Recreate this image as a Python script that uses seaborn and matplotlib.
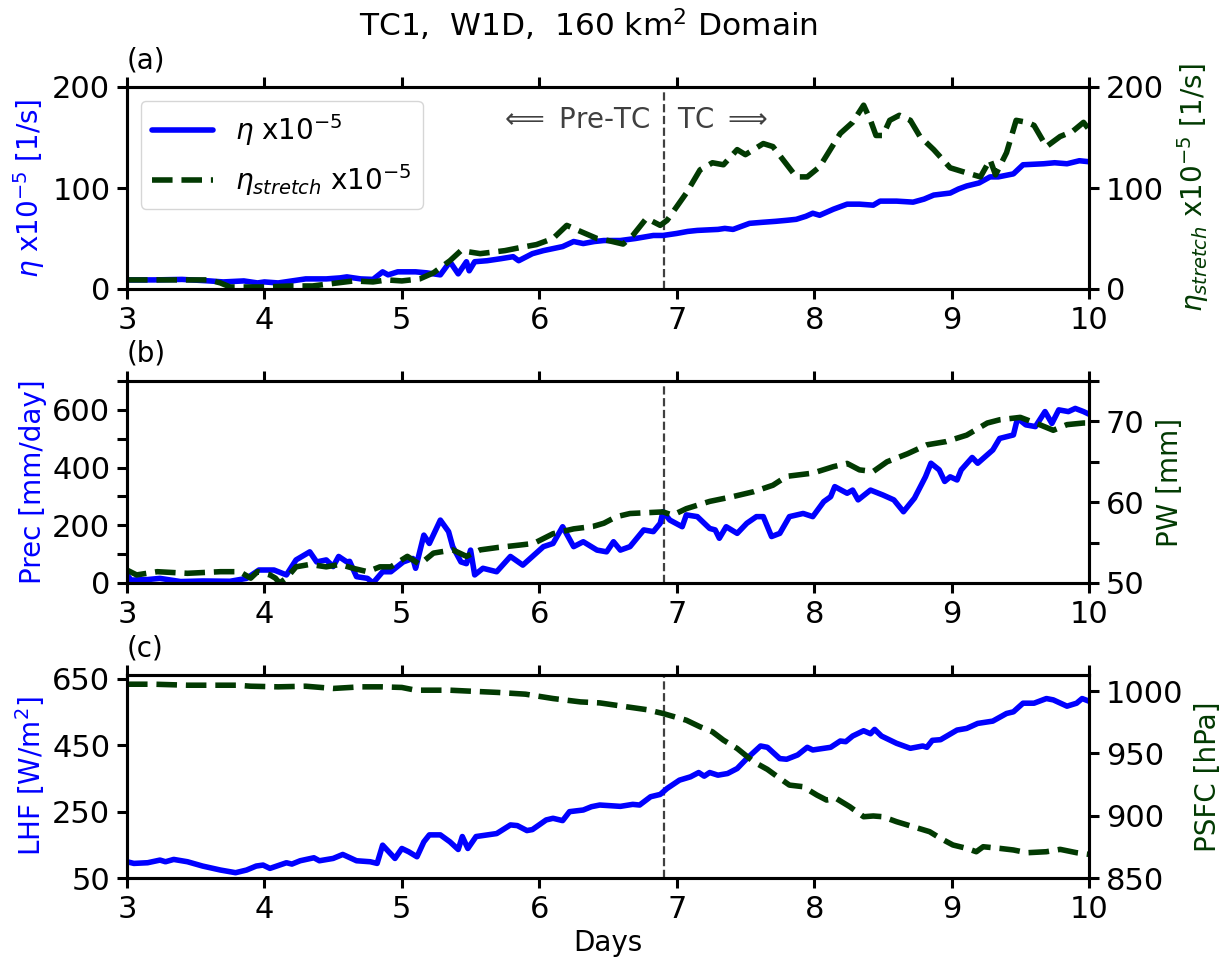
import matplotlib
matplotlib.use("Agg")
import matplotlib.pyplot as plt
import matplotlib.transforms as mtransforms
from matplotlib.ticker import MultipleLocator
import seaborn as sns

# ---------------- (a) absolute vorticity and stretching term (x1e-5 1/s) ----------------
eta_days = [3.0, 3.2, 3.4, 3.6, 3.7, 3.85, 3.95, 4.0, 4.1, 4.2, 4.3, 4.45, 4.55, 4.6, 4.7,
            4.79, 4.86, 4.9, 4.97, 5.1, 5.18, 5.28, 5.35, 5.41, 5.47, 5.49, 5.53, 5.62, 5.72,
            5.81, 5.85, 5.95, 6.03, 6.1, 6.17, 6.25, 6.32, 6.4, 6.47, 6.59, 6.7, 6.83, 6.9,
            7.0, 7.08, 7.15, 7.3, 7.35, 7.41, 7.47, 7.53, 7.62, 7.72, 7.8, 7.87, 7.94, 7.99,
            8.04, 8.14, 8.24, 8.33, 8.43, 8.48, 8.6, 8.72, 8.8, 8.87, 8.99, 9.05, 9.11, 9.2,
            9.28, 9.34, 9.45, 9.52, 9.67, 9.75, 9.84, 9.93, 10.0]
eta = [9, 9, 9.5, 8, 7, 8, 6, 7, 6, 8, 10, 10, 11, 12, 10,
       9.5, 17, 14, 17, 17, 16, 14, 27, 15, 27, 18, 27, 28, 30,
       32, 28, 35, 38, 40, 42, 47, 45, 47, 48, 48, 50, 53, 53,
       55, 57, 58, 59, 60, 59, 62, 65, 66, 67, 68, 69, 72, 75,
       73, 79, 84, 84, 83, 87, 87, 86, 89, 93, 95, 99, 102, 105,
       111, 111, 114, 123, 124, 125, 124, 127, 126]

stretch_days = [3.0, 3.2, 3.4, 3.6, 3.68, 3.75, 3.9, 4.0, 4.2, 4.35, 4.53, 4.65, 4.79, 4.89,
                5.0, 5.13, 5.23, 5.35, 5.43, 5.57, 5.75, 5.86, 5.98, 6.1, 6.2, 6.3, 6.42, 6.5,
                6.61, 6.68, 6.78, 6.88, 6.93, 7.07, 7.17, 7.26, 7.34, 7.44, 7.5, 7.63, 7.7,
                7.87, 7.95, 8.04, 8.19, 8.28, 8.36, 8.41, 8.45, 8.5, 8.55, 8.62, 8.7, 8.77,
                8.87, 8.99, 9.11, 9.21, 9.28, 9.32, 9.4, 9.47, 9.55, 9.6, 9.69, 9.79, 9.88,
                9.96, 10.0]
eta_stretch = [9, 9, 9, 9, 6, 2, 2, 2, 3, 3, 6, 8, 7, 9,
               8, 10, 16, 28, 38, 35, 38, 41, 44, 50, 63, 57, 50, 48,
               44.5, 53, 70, 63, 68, 95, 118, 125, 123, 138, 133, 144, 141,
               111, 111, 121, 154, 165, 182, 167, 152, 152, 167, 172, 167, 151,
               138, 120, 115, 111, 128, 113, 135, 167, 165, 162, 141, 151, 156,
               165, 158]

# ---------------- (b) precipitation (mm/day) and precipitable water (mm) ----------------
prec_days = [3.0, 3.03, 3.15, 3.24, 3.39, 3.55, 3.75, 3.87, 3.96, 4.07, 4.16, 4.23, 4.33,
             4.38, 4.45, 4.5, 4.54, 4.6, 4.62, 4.67, 4.75, 4.79, 4.86, 4.92, 5.01, 5.08,
             5.1, 5.16, 5.2, 5.28, 5.34, 5.37, 5.43, 5.47, 5.5, 5.53, 5.59, 5.69, 5.79,
             5.88, 6.03, 6.1, 6.17, 6.25, 6.32, 6.42, 6.49, 6.54, 6.59, 6.66, 6.76, 6.83,
             6.88, 6.9, 6.95, 7.04, 7.07, 7.15, 7.24, 7.28, 7.31, 7.36, 7.44, 7.51, 7.58,
             7.63, 7.69, 7.75, 7.82, 7.92, 7.99, 8.07, 8.12, 8.15, 8.24, 8.28, 8.32, 8.41,
             8.5, 8.58, 8.65, 8.73, 8.81, 8.85, 8.91, 8.95, 8.99, 9.04, 9.07, 9.15, 9.19,
             9.3, 9.35, 9.45, 9.48, 9.54, 9.61, 9.68, 9.73, 9.78, 9.85, 9.9, 9.96, 10.0]
prec = [28, 10, 12, 16, 5, 7, 6, 16, 45, 45, 28, 80, 108,
        73, 80, 57, 92, 73, 75, 22, 16, 0, 39, 39, 73, 85,
        51, 166, 137, 218, 178, 126, 73, 67, 114, 28, 51, 39, 92,
        62, 126, 137, 195, 126, 143, 114, 108, 143, 114, 126, 184, 178,
        207, 247, 218, 195, 236, 230, 189, 184, 155, 195, 172, 207, 230,
        230, 161, 172, 230, 241, 230, 282, 299, 334, 311, 322, 288, 322,
        305, 288, 247, 294, 368, 415, 392, 352, 368, 357, 392, 435, 415,
        461, 501, 513, 571, 548, 542, 594, 553, 600, 594, 605, 594, 585]

pw_days = [3.0, 3.07, 3.22, 3.44, 3.68, 3.82, 3.9, 3.95, 4.04, 4.08, 4.11, 4.16, 4.23,
           4.33, 4.45, 4.55, 4.65, 4.75, 4.84, 4.92, 5.04, 5.13, 5.23, 5.37, 5.47, 5.57,
           5.7, 5.86, 5.96, 6.1, 6.25, 6.39, 6.47, 6.56, 6.66, 6.9, 6.97, 7.07, 7.24,
           7.41, 7.56, 7.7, 7.8, 7.99, 8.14, 8.24, 8.33, 8.43, 8.53, 8.68, 8.82, 8.96,
           9.11, 9.26, 9.35, 9.5, 9.64, 9.74, 9.84, 9.96, 10.0]
pw = [51.6, 51.0, 51.4, 51.2, 51.4, 51.4, 50.6, 51.4, 51.0, 50.6, 50.0, 50.6, 52.0,
      52.3, 52.0, 52.3, 51.8, 51.4, 52.0, 52.0, 53.3, 52.3, 53.7, 54.1, 53.3, 54.1,
      54.4, 54.7, 54.9, 56.1, 56.7, 57.0, 57.4, 58.2, 58.6, 58.8, 58.4, 59.2, 60.1,
      60.7, 61.3, 62.1, 63.2, 63.6, 64.4, 64.8, 64.0, 63.8, 65.0, 66.0, 67.1, 67.5,
      68.3, 69.8, 70.2, 70.5, 69.6, 68.9, 69.6, 69.8, 69.8]

# ---------------- (c) latent heat flux (W/m2) and surface pressure (hPa) ----------------
lhf_days = [3.0, 3.05, 3.15, 3.24, 3.28, 3.34, 3.44, 3.55, 3.68, 3.79, 3.87, 3.94, 3.99,
            4.04, 4.16, 4.2, 4.26, 4.36, 4.4, 4.5, 4.57, 4.67, 4.77, 4.82, 4.86, 4.95,
            5.0, 5.05, 5.11, 5.16, 5.2, 5.28, 5.35, 5.41, 5.44, 5.48, 5.54, 5.69, 5.79,
            5.84, 5.91, 5.95, 6.05, 6.1, 6.17, 6.22, 6.32, 6.38, 6.44, 6.59, 6.68, 6.73,
            6.81, 6.88, 6.93, 7.02, 7.1, 7.16, 7.2, 7.24, 7.3, 7.37, 7.44, 7.51, 7.61,
            7.66, 7.75, 7.8, 7.88, 7.95, 7.99, 8.12, 8.19, 8.23, 8.28, 8.36, 8.41, 8.44,
            8.49, 8.6, 8.7, 8.79, 8.82, 8.86, 8.92, 9.04, 9.11, 9.19, 9.3, 9.4, 9.45,
            9.52, 9.6, 9.69, 9.74, 9.84, 9.91, 9.95, 10.0]
lhf = [99, 94, 96, 104, 99, 106, 99, 86, 74, 66, 74, 86, 89,
       79, 96, 92, 102, 111, 102, 109, 121, 102, 99, 94, 149, 109,
       139, 129, 114, 159, 180, 180, 159, 136, 175, 139, 175, 184, 210,
       208, 193, 196, 225, 230, 223, 250, 255, 265, 270, 266, 272, 270,
       295, 302, 320, 345, 355, 368, 357, 368, 360, 365, 380, 410, 448,
       444, 410, 408, 421, 444, 436, 444, 463, 461, 478, 494, 485, 498,
       478, 456, 441, 448, 444, 465, 467, 496, 501, 516, 523, 546, 551,
       577, 577, 591, 587, 568, 577, 591, 583]

psfc_days = [3.0, 3.2, 3.44, 3.8, 3.9, 4.1, 4.3, 4.5, 4.7, 4.85, 5.0, 5.1, 5.35, 5.5,
             5.7, 5.9, 6.1, 6.3, 6.44, 6.64, 6.78, 6.9, 7.07, 7.17, 7.26, 7.34, 7.44,
             7.56, 7.66, 7.75, 7.82, 7.92, 8.02, 8.09, 8.16, 8.26, 8.36, 8.43, 8.5, 8.6,
             8.72, 8.84, 8.92, 9.01, 9.11, 9.18, 9.23, 9.35, 9.45, 9.55, 9.69, 9.79, 9.91,
             10.0]
psfc = [1005.6, 1005.6, 1004.8, 1004.8, 1004.0, 1003.5, 1004.0, 1002.2, 1003.5, 1003.5,
        1003.0, 1000.8, 1000.8, 1000.0, 999.0, 997.6, 994.1, 991.4, 990.6, 987.4, 985.2,
        982.1, 976.7, 971.4, 967.4, 960.7, 954.0, 943.3, 937.2, 930.0, 924.6, 923.3,
        916.6, 912.6, 913.9, 907.2, 899.2, 899.8, 899.2, 895.2, 891.2, 887.2, 881.8,
        876.5, 873.8, 871.1, 875.1, 873.8, 872.5, 870.3, 871.1, 873.0, 870.3, 869.0]

day_ticks = [3, 4, 5, 6, 7, 8, 9, 10]
tc_onset = 6.91

BLUE = "#0000ff"
GREEN = "#023a02"
LW = 4.0
TICK_FS = 22
LABEL_FS = 20

sns.set_theme(style="ticks")
plt.rcParams["font.family"] = ["DejaVu Sans"]
plt.rcParams["mathtext.fontset"] = "dejavusans"
plt.rcParams["axes.linewidth"] = 2.2
plt.rcParams["axes.edgecolor"] = "black"
plt.rcParams["text.color"] = "black"
plt.rcParams["axes.labelcolor"] = "black"
plt.rcParams["xtick.color"] = "black"
plt.rcParams["ytick.color"] = "black"

W, H = 1223, 964
fig = plt.figure(figsize=(W / 100, H / 100), dpi=100)


def rect(top_px, bottom_px, left_px=127, right_px=1089):
    return [left_px / W, 1 - bottom_px / H, (right_px - left_px) / W,
            (bottom_px - top_px) / H]


def style_axis(ax, side):
    ax.tick_params(axis="both", which="both", direction="out", length=7, width=2.2,
                   labelsize=TICK_FS, pad=5, colors="black")
    if side == "left":
        ax.tick_params(axis="x", which="both", top=True, bottom=True)


def panel(top_px, bottom_px, x_l, y_l, x_r, y_r, letter):
    ax = fig.add_axes(rect(top_px, bottom_px))
    ax2 = ax.twinx()
    sns.lineplot(x=x_l, y=y_l, ax=ax, color=BLUE, lw=LW, legend=False, sort=False)
    sns.lineplot(x=x_r, y=y_r, ax=ax2, color=GREEN, lw=LW, ls="--", legend=False,
                 sort=False)
    ax.axvline(tc_onset, color="0.25", ls="--", lw=1.6, zorder=1)
    ax.set_xlim(3, 10)
    ax.set_xticks(day_ticks)
    ax.set_xticklabels([str(d) for d in day_ticks])
    ax.set_xlabel("")
    style_axis(ax, "left")
    style_axis(ax2, "right")
    ax.text(0, 1 + 19 / (bottom_px - top_px), letter, transform=ax.transAxes,
            ha="left", va="baseline", fontsize=LABEL_FS, color="black")
    return ax, ax2


# (a)
ax_a, ax_a2 = panel(87, 289, eta_days, eta, stretch_days, eta_stretch, "(a)")
for a in (ax_a, ax_a2):
    a.set_ylim(0, 200)
    a.set_yticks([0, 100, 200])
ax_a.set_ylabel(r"$\eta$ x10$^{-5}$ [1/s]", color=BLUE, fontsize=LABEL_FS)
ax_a2.set_ylabel(r"$\eta_{stretch}$ x10$^{-5}$ [1/s]", color=GREEN, fontsize=LABEL_FS,
                 labelpad=8)
leg = ax_a2.legend([ax_a.lines[0], ax_a2.lines[0]],
                   [r"$\eta$ x10$^{-5}$", r"$\eta_{stretch}$ x10$^{-5}$"],
                   loc="upper left", fontsize=20, handlelength=2.2, framealpha=0.8,
                   borderaxespad=0.5, labelspacing=0.5)
for t in leg.get_texts():
    t.set_color("black")

trans = mtransforms.blended_transform_factory(ax_a.transData, ax_a.transAxes)
yb = (289 - 128) / (289 - 87)
ax_a.annotate(r"$\Longleftarrow$ Pre-TC", xy=(tc_onset, yb), xycoords=trans,
              xytext=(-10, 0), textcoords="offset points", ha="right", va="baseline",
              fontsize=LABEL_FS, color="0.25")
ax_a.annotate(r"TC $\Longrightarrow$", xy=(tc_onset, yb), xycoords=trans,
              xytext=(9, 0), textcoords="offset points", ha="left", va="baseline",
              fontsize=LABEL_FS, color="0.25")

# (b)
ax_b, ax_b2 = panel(381, 583, prec_days, prec, pw_days, pw, "(b)")
ax_b.set_ylim(0, 700)
ax_b.set_yticks([0, 200, 400, 600])
ax_b.yaxis.set_minor_locator(MultipleLocator(100))
ax_b2.set_ylim(50, 75)
ax_b2.set_yticks([50, 60, 70])
ax_b2.yaxis.set_minor_locator(MultipleLocator(5))
ax_b.set_ylabel("Prec [mm/day]", color=BLUE, fontsize=LABEL_FS)
ax_b2.set_ylabel("PW [mm]", color=GREEN, fontsize=LABEL_FS, labelpad=8)

# (c)
ax_c, ax_c2 = panel(675, 878, lhf_days, lhf, psfc_days, psfc, "(c)")
ax_c.set_ylim(50, 662)
ax_c.set_yticks([50, 250, 450, 650])
ax_c2.set_ylim(850, 1013)
ax_c2.set_yticks([850, 900, 950, 1000])
ax_c.set_ylabel(r"LHF [W/m$^2$]", color=BLUE, fontsize=LABEL_FS)
ax_c2.set_ylabel("PSFC [hPa]", color=GREEN, fontsize=LABEL_FS, labelpad=8)
ax_c.set_xlabel("Days", fontsize=LABEL_FS, color="black")

fig.text(589 / W, 1 - 36.7 / H, r"TC1,  W1D,  160 km$^2$ Domain", ha="center",
         va="baseline", fontsize=22.5, color="black")

fig.savefig("out.png", dpi=100)
